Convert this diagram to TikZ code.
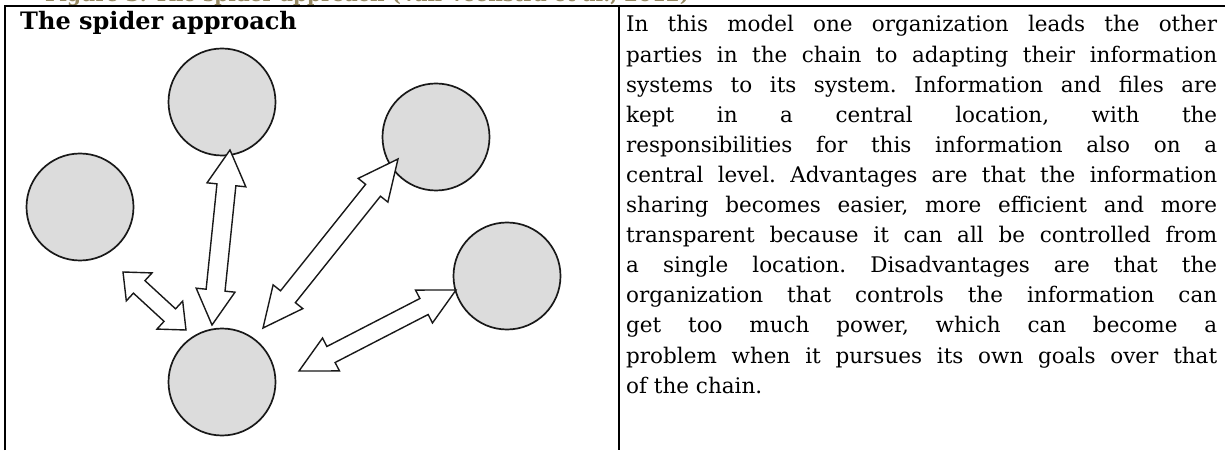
\documentclass[tikz,border=0pt]{standalone}
\usepackage{fontspec}
\setmainfont{DejaVu Serif}
\usetikzlibrary{calc}
\definecolor{discfill}{RGB}{220,220,220}
\definecolor{captionink}{RGB}{150,136,98}

% Double-headed block arrow from #1 to #2:
% #3 shaft half width, #4 head half width, #5 head length
\newcommand{\dblarrow}[5]{%
  \coordinate (da-p) at ($(#1)!#5!(#2)$);
  \coordinate (da-q) at ($(#2)!#5!(#1)$);
  \draw[blockarrow] (#1)
    -- ($(da-p)!#4!90:(#2)$) -- ($(da-p)!#3!90:(#2)$)
    -- ($(da-q)!#3!-90:(#1)$) -- ($(da-q)!#4!-90:(#1)$)
    -- (#2)
    -- ($(da-q)!#4!90:(#1)$) -- ($(da-q)!#3!90:(#1)$)
    -- ($(da-p)!#3!-90:(#2)$) -- ($(da-p)!#4!-90:(#2)$)
    -- cycle;}

\begin{document}
\frenchspacing
\begin{tikzpicture}[x=1pt,y=1pt,
  disc/.style={circle, draw=black!90, line width=1.7pt, fill=discfill,
    minimum size=107pt, inner sep=0pt},
  blockarrow/.style={draw=black!90, line width=1.4pt, fill=white, line join=miter},
  tablerule/.style={line width=1.5pt, black},
  bodytext/.style={font=\fontsize{21.5}{30.1}\selectfont, inner sep=0pt, anchor=base west}]
\useasboundingbox (0,0) rectangle (1225,450);
\clip (0,0) rectangle (1225,450);

% caption line above the table (cut off at the top edge)
\node[anchor=base west, inner sep=0pt, text=captionink,
  font=\bfseries\fontsize{20}{24}\selectfont] (caption) at (45,448)
  {Figure 3: The spider approach (Van Veenstra et al., 2012)};

% table rules (open at the right and at the bottom)
\coordinate (tl) at (5,444);
\coordinate (tr) at (1225,444);
\coordinate (bl) at (5,0);
\coordinate (mt) at (619,444);
\coordinate (mb) at (619,0);
\draw[tablerule] (bl) -- (tl) -- (tr);
\draw[tablerule] (mt) -- (mb);

% left cell: heading and diagram
\node[anchor=base west, inner sep=0pt, font=\bfseries\fontsize{24}{28}\selectfont]
  (title) at (20,420) {The spider approach};

\node[disc] (top)    at (222,348) {};
\node[disc] (ur)     at (436,313) {};
\node[disc] (left)   at (80,243)  {};
\node[disc] (lr)     at (507,174) {};
\node[disc] (bottom) at (222,68)  {};

\coordinate (a1s) at ($(bottom)+(-10,57)$);
\coordinate (a1e) at ($(top)+(8,-48)$);
\coordinate (a2s) at ($(left)+(43,-65)$);
\coordinate (a2e) at ($(bottom)+(-36,52)$);
\coordinate (a3s) at ($(bottom)+(41,54)$);
\coordinate (a3e) at ($(ur)+(-38,-22)$);
\coordinate (a4s) at ($(bottom)+(77,11)$);
\coordinate (a4e) at ($(lr)+(-51,-14)$);

\dblarrow{a1s}{a1e}{9.5pt}{19.5pt}{35pt}
\dblarrow{a2s}{a2e}{8.5pt}{19pt}{22pt}
\dblarrow{a3s}{a3e}{9.5pt}{19pt}{40pt}
\dblarrow{a4s}{a4e}{9pt}{18.5pt}{36pt}

% right cell: description
\node[bodytext] (body) at (626,418) {\parbox[t]{591pt}{%
\makebox[591pt][s]{In this model one organization leads the other}\\
\makebox[591pt][s]{parties in the chain to adapting their information}\\
\makebox[591pt][s]{systems to its system. Information and files are}\\
\makebox[591pt][s]{kept in a central location, with the}\\
\makebox[591pt][s]{responsibilities for this information also on a}\\
\makebox[591pt][s]{central level. Advantages are that the information}\\
\makebox[591pt][s]{sharing becomes easier, more efficient and more}\\
\makebox[591pt][s]{transparent because it can all be controlled from}\\
\makebox[591pt][s]{a single location. Disadvantages are that the}\\
\makebox[591pt][s]{organization that controls the information can}\\
\makebox[591pt][s]{get too much power, which can become a}\\
\makebox[591pt][s]{problem when it pursues its own goals over that}\\
of the chain.}};
\end{tikzpicture}
\end{document}
